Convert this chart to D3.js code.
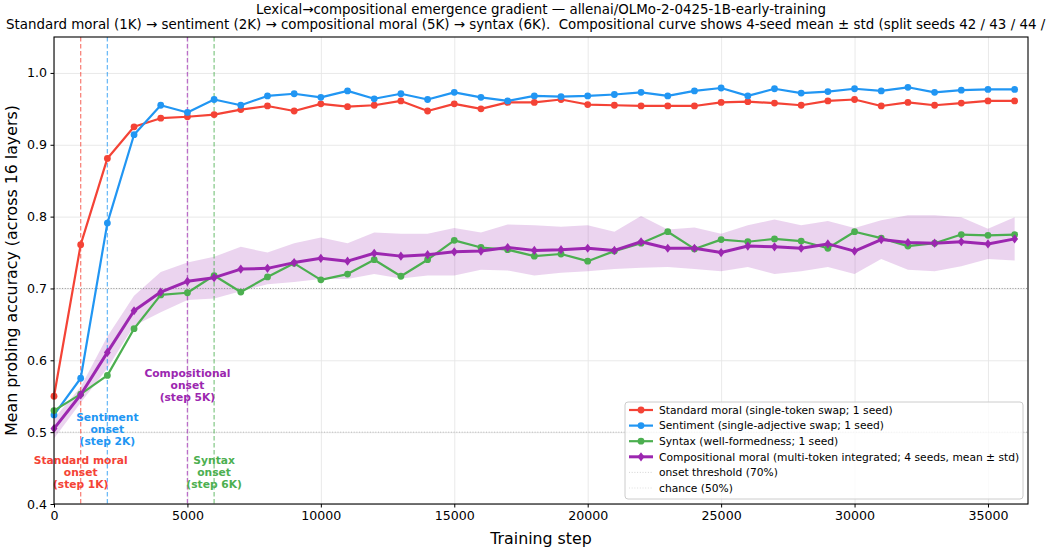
<!DOCTYPE html>
<html>
<head>
<meta charset="utf-8">
<script src="https://cdn.jsdelivr.net/npm/d3@7.9.0/dist/d3.min.js"></script>
<style>
  html, body { margin: 0; padding: 0; background: #fff; }
  svg { display: block; font-family: "DejaVu Sans", sans-serif; }
</style>
</head>
<body>
<svg id="chart" width="1047" height="550"></svg>
<script>
// training steps (x)
const steps = [0, 1000, 2000, 3000, 4000, 5000, 6000, 7000, 8000, 9000,
  10000, 11000, 12000, 13000, 14000, 15000, 16000, 17000, 18000, 19000,
  20000, 21000, 22000, 23000, 24000, 25000, 26000, 27000, 28000, 29000,
  30000, 31000, 32000, 33000, 34000, 35000, 36000];

const standardMoral = [0.550, 0.761, 0.881, 0.925, 0.937, 0.939, 0.942, 0.949, 0.954, 0.947,
  0.957, 0.953, 0.955, 0.961, 0.947, 0.957, 0.950, 0.959, 0.959, 0.963,
  0.956, 0.955, 0.954, 0.954, 0.954, 0.959, 0.960, 0.958, 0.955, 0.961,
  0.963, 0.954, 0.959, 0.955, 0.958, 0.961, 0.961];

const sentiment = [0.524, 0.575, 0.791, 0.914, 0.955, 0.945, 0.963, 0.955, 0.968, 0.971,
  0.966, 0.975, 0.964, 0.971, 0.963, 0.973, 0.966, 0.961, 0.968, 0.967,
  0.968, 0.970, 0.973, 0.968, 0.975, 0.979, 0.968, 0.978, 0.972, 0.974,
  0.978, 0.975, 0.980, 0.973, 0.976, 0.977, 0.977];

const syntax = [0.530, 0.553, 0.579, 0.644, 0.691, 0.694, 0.718, 0.695, 0.716, 0.735,
  0.712, 0.720, 0.740, 0.717, 0.740, 0.767, 0.757, 0.754, 0.745, 0.748,
  0.738, 0.752, 0.763, 0.779, 0.755, 0.768, 0.765, 0.769, 0.766, 0.756,
  0.779, 0.770, 0.759, 0.763, 0.775, 0.774, 0.775];

const compMean = [0.505, 0.552, 0.611, 0.669, 0.695, 0.710, 0.715, 0.727, 0.728, 0.736,
  0.742, 0.738, 0.749, 0.745, 0.747, 0.751, 0.752, 0.757, 0.753, 0.754,
  0.756, 0.753, 0.765, 0.756, 0.756, 0.750, 0.759, 0.758, 0.756, 0.762,
  0.752, 0.768, 0.764, 0.763, 0.765, 0.762, 0.769];

const compStd = [0.014, 0.011, 0.022, 0.021, 0.028, 0.026, 0.029, 0.031, 0.022, 0.027,
  0.029, 0.025, 0.029, 0.031, 0.029, 0.033, 0.026, 0.032, 0.035, 0.032,
  0.032, 0.026, 0.036, 0.026, 0.029, 0.026, 0.029, 0.038, 0.032, 0.032,
  0.032, 0.027, 0.038, 0.039, 0.034, 0.021, 0.030];

const xTicks = [0, 5000, 10000, 15000, 20000, 25000, 30000, 35000];
const yTicks = [0.4, 0.5, 0.6, 0.7, 0.8, 0.9, 1.0];

const onsets = [
  { step: 1000, color: '#f44336', lines: ['Standard moral', 'onset', '(step 1K)'], at: 0.4445 },
  { step: 2000, color: '#2196f3', lines: ['Sentiment', 'onset', '(step 2K)'], at: 0.504 },
  { step: 5000, color: '#9c27b0', lines: ['Compositional', 'onset', '(step 5K)'], at: 0.566 },
  { step: 6000, color: '#4caf50', lines: ['Syntax', 'onset', '(step 6K)'], at: 0.4445 },
];

const series = [
  { name: 'Standard moral (single-token swap; 1 seed)', values: standardMoral, color: '#f44336', marker: 'circle', width: 2.2 },
  { name: 'Sentiment (single-adjective swap; 1 seed)', values: sentiment, color: '#2196f3', marker: 'circle', width: 2.2 },
  { name: 'Syntax (well-formedness; 1 seed)', values: syntax, color: '#4caf50', marker: 'circle', width: 2.2 },
  { name: 'Compositional moral (multi-token integrated; 4 seeds, mean ± std)', values: compMean, color: '#9c27b0', marker: 'diamond', width: 3 },
];

const margin = { top: 37, right: 19, bottom: 46, left: 54 };
const width = 1047;
const height = 550;

const svg = d3.select('#chart');

const xScale = d3.scaleLinear()
  .domain([0, 36500])
  .range([margin.left, width - margin.right]);

const yScale = d3.scaleLinear()
  .domain([0.4, 1.05])
  .range([height - margin.bottom, margin.top]);

// gridlines
svg.append('g')
  .attr('class', 'gridlines')
  .attr('transform', `translate(0, ${height - margin.bottom})`)
  .call(d3.axisBottom(xScale).tickValues(xTicks)
    .tickSize(-(height - margin.top - margin.bottom)).tickFormat(''))
  .call(g => g.select('.domain').remove())
  .call(g => g.selectAll('line').attr('stroke', '#e6e6e6').attr('stroke-width', 0.9));

svg.append('g')
  .attr('class', 'gridlines')
  .attr('transform', `translate(${margin.left}, 0)`)
  .call(d3.axisLeft(yScale).tickValues(yTicks)
    .tickSize(-(width - margin.left - margin.right)).tickFormat(''))
  .call(g => g.select('.domain').remove())
  .call(g => g.selectAll('line').attr('stroke', '#e6e6e6').attr('stroke-width', 0.9));

// std band
const band = steps.map((s, i) => ({ s, lo: compMean[i] - compStd[i], hi: compMean[i] + compStd[i] }));
svg.append('path')
  .datum(band)
  .attr('fill', '#9c27b0')
  .attr('fill-opacity', 0.2)
  .attr('d', d3.area().x(d => xScale(d.s)).y0(d => yScale(d.lo)).y1(d => yScale(d.hi)));

// threshold lines
svg.append('line')
  .attr('x1', margin.left).attr('x2', width - margin.right)
  .attr('y1', yScale(0.7)).attr('y2', yScale(0.7))
  .attr('stroke', '#808080').attr('stroke-opacity', 0.8)
  .attr('stroke-width', 1).attr('stroke-dasharray', '1,1.7');

svg.append('line')
  .attr('x1', margin.left).attr('x2', width - margin.right)
  .attr('y1', yScale(0.5)).attr('y2', yScale(0.5))
  .attr('stroke', '#808080').attr('stroke-opacity', 0.5)
  .attr('stroke-width', 1).attr('stroke-dasharray', '1,1.7');

// onset markers
svg.append('g')
  .selectAll('line')
  .data(onsets)
  .join('line')
  .attr('x1', d => xScale(d.step)).attr('x2', d => xScale(d.step))
  .attr('y1', margin.top).attr('y2', height - margin.bottom)
  .attr('stroke', d => d.color)
  .attr('stroke-opacity', 0.65)
  .attr('stroke-width', 1.3)
  .attr('stroke-dasharray', '4.5,2.5');

// series
const line = d3.line().x((d, i) => xScale(steps[i])).y(d => yScale(d));
const diamond = r => `M0,${-r}L${r * 0.75},0L0,${r}L${-r * 0.75},0Z`;

series.forEach(s => {
  const g = svg.append('g');
  g.append('path')
    .datum(s.values)
    .attr('fill', 'none')
    .attr('stroke', s.color)
    .attr('stroke-width', s.width)
    .attr('stroke-linejoin', 'round')
    .attr('d', line);

  if (s.marker === 'circle') {
    g.selectAll('circle')
      .data(s.values)
      .join('circle')
      .attr('cx', (d, i) => xScale(steps[i]))
      .attr('cy', d => yScale(d))
      .attr('r', 3.4)
      .attr('fill', s.color);
  } else {
    g.selectAll('path.mk')
      .data(s.values)
      .join('path')
      .attr('class', 'mk')
      .attr('transform', (d, i) => `translate(${xScale(steps[i])}, ${yScale(d)})`)
      .attr('d', diamond(4.6))
      .attr('fill', s.color);
  }
});

// onset labels
onsets.forEach(o => {
  const t = svg.append('text')
    .attr('text-anchor', 'middle')
    .attr('font-size', 10.7)
    .attr('font-weight', 'bold')
    .attr('fill', o.color);
  const cy = yScale(o.at);
  o.lines.forEach((l, i) => {
    t.append('tspan')
      .attr('x', xScale(o.step))
      .attr('y', cy + (i - 1) * 12 + 4)
      .text(l);
  });
});

// axes
const xAxis = svg.append('g')
  .attr('transform', `translate(0, ${height - margin.bottom})`)
  .call(d3.axisBottom(xScale).tickValues(xTicks).tickSize(3.5).tickPadding(3.5).tickFormat(d3.format('d')));

const yAxis = svg.append('g')
  .attr('transform', `translate(${margin.left}, 0)`)
  .call(d3.axisLeft(yScale).tickValues(yTicks).tickSize(3.5).tickPadding(3.5).tickFormat(d3.format('.1f')));

[xAxis, yAxis].forEach(a => {
  a.select('.domain').remove();
  a.selectAll('text').attr('font-size', 12.6).attr('fill', '#000')
    .attr('font-family', '"DejaVu Sans", sans-serif');
  a.selectAll('line').attr('stroke', '#000').attr('stroke-width', 1);
});

// frame
svg.append('rect')
  .attr('x', margin.left).attr('y', margin.top)
  .attr('width', width - margin.left - margin.right)
  .attr('height', height - margin.top - margin.bottom)
  .attr('fill', 'none').attr('stroke', '#000').attr('stroke-width', 1.1);

// axis labels
svg.append('text')
  .attr('x', (margin.left + width - margin.right) / 2)
  .attr('y', 544)
  .attr('text-anchor', 'middle')
  .attr('font-size', 15.8)
  .text('Training step');

svg.append('text')
  .attr('transform', `translate(17, ${(margin.top + height - margin.bottom) / 2}) rotate(-90)`)
  .attr('text-anchor', 'middle')
  .attr('font-size', 15.8)
  .text('Mean probing accuracy (across 16 layers)');

// titles
const titleX = (margin.left + width - margin.right) / 2;
svg.append('text')
  .attr('x', titleX)
  .attr('y', 13.5)
  .attr('text-anchor', 'middle')
  .attr('font-size', 13.4)
  .text('Lexical→compositional emergence gradient — allenai/OLMo-2-0425-1B-early-training');

svg.append('text')
  .attr('x', titleX)
  .attr('y', 29)
  .attr('text-anchor', 'middle')
  .attr('font-size', 13.4)
  .style('white-space', 'pre')
  .text('Standard moral (1K) → sentiment (2K) → compositional moral (5K) → syntax (6K).  Compositional curve shows 4-seed mean ± std (split seeds 42 / 43 / 44 / 45).');

// legend
const legendItems = [
  ...series.map(s => ({ name: s.name, color: s.color, type: s.marker, width: s.width })),
  { name: 'onset threshold (70%)', color: '#808080', type: 'dotted', opacity: 0.35 },
  { name: 'chance (50%)', color: '#808080', type: 'dotted', opacity: 0.25 },
];

const legend = svg.append('g').attr('transform', 'translate(625, 402)');
legend.append('rect')
  .attr('width', 398).attr('height', 97)
  .attr('rx', 3)
  .attr('fill', '#fff').attr('fill-opacity', 0.8)
  .attr('stroke', '#cccccc').attr('stroke-width', 1);

legendItems.forEach((it, i) => {
  const row = legend.append('g').attr('transform', `translate(0, ${8 + i * 15.6})`);
  const ln = row.append('line')
    .attr('x1', 4).attr('x2', 28)
    .attr('stroke', it.color);
  if (it.type === 'dotted') {
    ln.attr('stroke-width', 1).attr('stroke-dasharray', '1,1.7').attr('stroke-opacity', it.opacity);
  } else {
    ln.attr('stroke-width', it.width);
    if (it.type === 'circle') {
      row.append('circle').attr('cx', 16).attr('cy', 0).attr('r', 3.4).attr('fill', it.color);
    } else {
      row.append('path').attr('transform', 'translate(16,0)').attr('d', diamond(4.6)).attr('fill', it.color);
    }
  }
  row.append('text')
    .attr('x', 34).attr('y', 3.7)
    .attr('font-size', 10.7)
    .text(it.name);
});
</script>
</body>
</html>
